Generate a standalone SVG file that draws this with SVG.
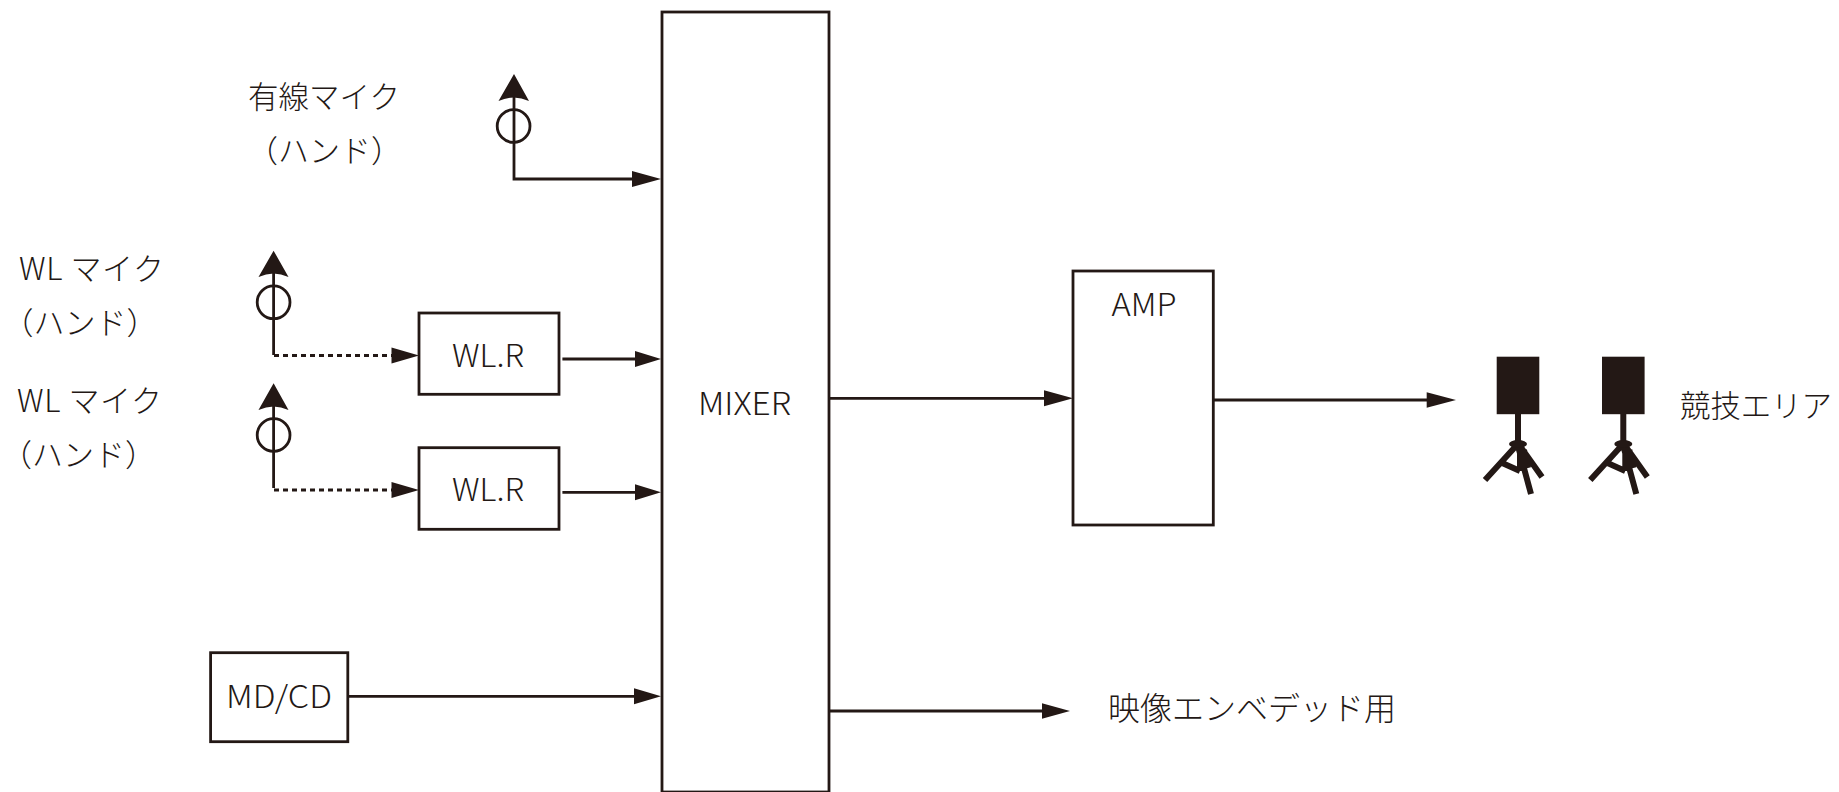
<svg xmlns="http://www.w3.org/2000/svg" width="1839" height="792" viewBox="0 0 1839 792">
<style>
text{font-family:"Noto Sans CJK JP","Noto Sans",sans-serif;font-weight:300;font-size:31px;fill:#231815}
.m{text-anchor:middle}
.box{fill:#fff;stroke:#231815;stroke-width:2.8}
.ln{fill:none;stroke:#231815;stroke-width:2.8}
.dash{stroke-dasharray:5 4}
.ah{fill:#231815}
.spk{fill:#231815}
.leg{fill:none;stroke:#231815;stroke-width:6}
</style>
<defs>
<g id="speaker">
<rect class="spk" x="1496.7" y="356.7" width="42.6" height="57.5"/>
<path class="leg" d="M1518 414V445M1516 446L1485 480M1520 446L1542 477M1518 446L1531 494M1500 462L1520 471M1520 471V448M1524 450L1528 468"/>
<ellipse class="spk" cx="1518" cy="444" rx="9" ry="4"/>
</g>
</defs>
<rect width="1839" height="792" fill="#fff"/>
<g id="connectors">
<path class="ln" d="M514 96V179H634"/><path class="ah" d="M661 179L632 171V187Z"/>
<path class="ah" d="M514 74L498.500 101Q514 94 529 101Z"/>
<path class="ln" d="M273.600 272V355"/><path class="ln dash" d="M274 355.500H393"/><path class="ah" d="M419 355.500L391.500 347.500V363.500Z"/>
<path class="ah" d="M273.600 250.700L258.500 277Q273.600 270 288.500 277Z"/>
<path class="ln" d="M273.600 405V488"/><path class="ln dash" d="M274 490H393"/><path class="ah" d="M419 490L391.500 482V498Z"/>
<path class="ah" d="M273.600 383.300L258.500 410Q273.600 403 288.500 410Z"/>
<path class="ln" d="M562.400 359H637"/><path class="ah" d="M661 359L635 351V367Z"/>
<path class="ln" d="M562.400 492.300H637"/><path class="ah" d="M661 492.300L635 484.300V500.300Z"/>
<path class="ln" d="M348 696.300H636"/><path class="ah" d="M661 696.300L634 688.300V704.300Z"/>
<path class="ln" d="M829 398.300H1046"/><path class="ah" d="M1073 398.300L1044 390.300V406.300Z"/>
<path class="ln" d="M1214 400H1428"/><path class="ah" d="M1456 400L1426.700 392.300V407.700Z"/>
<path class="ln" d="M829 711H1044"/><path class="ah" d="M1070 711L1042 703.300V718.700Z"/>
</g>
<g id="mic1"><ellipse class="ln" cx="513.600" cy="126" rx="16.400" ry="16.400"/><text class="m" x="324" y="108" style="font-size:30.500px">有線マイク</text><text class="m" x="324.500" y="162">（ハンド）</text></g>
<g id="mic2"><ellipse class="ln" cx="273.600" cy="302.300" rx="16.400" ry="16.400"/><text x="19" y="280" textLength="145" lengthAdjust="spacing">WL マイク</text><text class="m" x="80" y="334">（ハンド）</text></g>
<g id="mic3"><ellipse class="ln" cx="273.600" cy="435" rx="16.400" ry="16.400"/><text x="17" y="411.500" textLength="145" lengthAdjust="spacing">WL マイク</text><text class="m" x="78.500" y="466">（ハンド）</text></g>
<g id="wlr1"><rect class="box" x="419" y="313" width="140" height="81.300"/><text class="m" x="488" y="367" textLength="72" lengthAdjust="spacingAndGlyphs">WL.R</text></g>
<g id="wlr2"><rect class="box" x="419" y="447.700" width="140" height="81.600"/><text class="m" x="488" y="501" textLength="72" lengthAdjust="spacingAndGlyphs">WL.R</text></g>
<g id="mdcd"><rect class="box" x="210.600" y="652.700" width="137.200" height="89"/><text class="m" x="279" y="708" textLength="106" lengthAdjust="spacingAndGlyphs">MD/CD</text></g>
<g id="mixer"><rect class="box" x="662" y="12" width="167" height="780"/><text class="m" x="744.500" y="415" textLength="93" lengthAdjust="spacingAndGlyphs">MIXER</text></g>
<g id="amp"><rect class="box" x="1073" y="271" width="140.300" height="254"/><text class="m" x="1144" y="316" textLength="65" lengthAdjust="spacingAndGlyphs">AMP</text></g>
<g id="speaker1"><use href="#speaker"/></g>
<g id="speaker2"><use href="#speaker" x="105.300"/></g>
<text id="label-area" x="1680" y="417" style="font-size:30.400px">競技エリア</text>
<text id="label-embed" x="1108" y="720" style="font-size:32px">映像エンベデッド用</text>
</svg>
